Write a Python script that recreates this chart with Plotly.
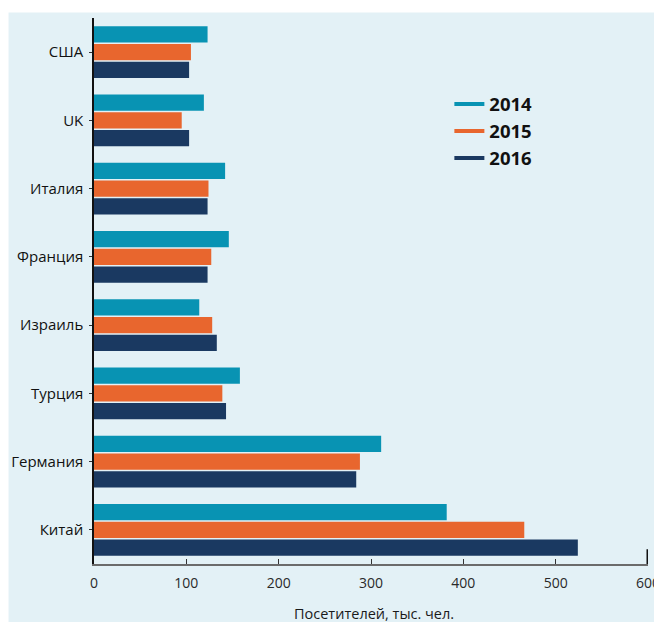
import plotly.graph_objects as go

countries = ["США", "UK", "Италия", "Франция", "Израиль", "Турция", "Германия", "Китай"]
years = ["2014", "2015", "2016"]
v2014 = [123, 119, 142, 146, 114, 158, 311, 382]
v2015 = [105, 95, 124, 127, 128, 139, 288, 466]
v2016 = [103, 103, 123, 123, 133, 143, 284, 524]
colors = ["#0893b3", "#e8662e", "#1a3961"]
x_ticks = [0, 100, 200, 300, 400, 500, 600]
x_title = "Посетителей, тыс. чел."

W, H = 654, 622
L, R, T, B = 93.5, 6.3, 17.5, 58.2
pw, ph = W - L - R, H - T - B

fig = go.Figure()
for name, vals, col in zip(years, [v2014, v2015, v2016], colors):
    fig.add_trace(go.Bar(y=countries, x=vals, orientation="h", name=name,
                         marker=dict(color=col, line=dict(width=0)),
                         showlegend=False))
for name, col in zip(years, colors):
    fig.add_trace(go.Scatter(x=[None], y=[None], mode="lines", name=name,
                             line=dict(color=col, width=4), legendgroup=name))

def px_x(p):
    return (p - L) / pw

def px_y(p):
    return (H - B - p) / ph

fig.add_shape(type="rect", xref="paper", yref="paper",
              x0=px_x(8), x1=px_x(W + 2), y0=px_y(H + 2), y1=px_y(12),
              fillcolor="#e3f1f6", line=dict(width=0), layer="below")
fig.add_shape(type="line", xref="x", yref="paper", x0=600, x1=600,
              y0=0, y1=px_y(549), line=dict(color="#111111", width=3))

fig.add_annotation(text=x_title, xref="paper", yref="paper", x=px_x(374), y=px_y(613),
                   showarrow=False, xanchor="center", yanchor="middle",
                   font=dict(family="Open Sans", size=14.5, color="#1a1a1a"))

fig.update_layout(
    width=W, height=H,
    margin=dict(l=L, r=R, t=T, b=B, autoexpand=False),
    paper_bgcolor="white", plot_bgcolor="rgba(0,0,0,0)",
    barmode="group", bargap=0.22, bargroupgap=0.08,
    font=dict(family="Open Sans", color="#222222"),
    legend=dict(x=px_x(449), y=px_y(85), xanchor="left", yanchor="top",
                bgcolor="rgba(0,0,0,0)", tracegroupgap=0,
                font=dict(family="Open Sans", size=18.5, color="#111111", weight="bold")),
    xaxis=dict(range=[0, 600], tickvals=x_ticks, ticks="inside", ticklen=5,
               tickcolor="#333333", showgrid=False, zeroline=False,
               showline=True, linecolor="#6b6b6b", linewidth=2,
               ticklabeloverflow="allow", ticklabelstandoff=5,
               tickfont=dict(family="Liberation Sans Narrow, Open Sans", size=14, color="#2a2a2a"),
               automargin=False),
    yaxis=dict(autorange="reversed", showgrid=False, zeroline=False,
               showline=True, linecolor="#111111", linewidth=1.5,
               ticks="outside", ticklen=3, tickcolor="#333333",
               ticklabelstandoff=3,
               tickfont=dict(family="Open Sans", size=15, color="#111111", weight=500),
               automargin=False),
)

fig.write_html("out.html")
